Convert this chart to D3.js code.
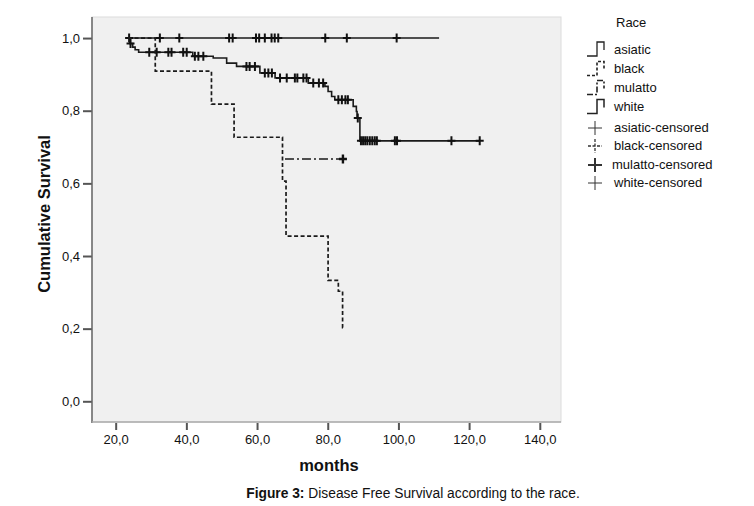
<!DOCTYPE html>
<html>
<head>
<meta charset="utf-8">
<script src="https://cdn.jsdelivr.net/npm/d3@7"></script>
<style>
  body { margin: 0; background: #fff; }
  text { font-family: "Liberation Sans", Arial, sans-serif; fill: #111; }
</style>
</head>
<body>
<div id="chart"></div>
<script>
/* DATA */
// step curves: [time in months, survival after the drop]
const asiaticSteps = [[23.1, 1.0]];
const asiaticEnd = 111.5;
const asiaticCensored = [23.8, 32.5, 38.0, 52.1, 53.1, 59.7, 60.6, 62.2, 64.1, 65.0, 66.0, 79.3, 85.4, 99.5];

const blackSteps = [[23.5, 1.0], [31.2, 0.909], [47.1, 0.818], [53.5, 0.727], [67.2, 0.606],
  [68.2, 0.455], [80.1, 0.333], [83.0, 0.303], [84.2, 0.203]];
const blackEnd = 84.4;
const blackCensored = [];

const mulattoSteps = [[67.9, 0.667]];
const mulattoEnd = 84.8;
const mulattoCensored = [84.3];

const whiteSteps = [[23.5, 1.0], [24.0, 0.985], [24.8, 0.975], [25.5, 0.968], [26.5, 0.961],
  [41.8, 0.950], [47.6, 0.945], [51.4, 0.931], [54.2, 0.922], [60.8, 0.904], [65.1, 0.890],
  [74.5, 0.876], [79.2, 0.867], [80.1, 0.853], [81.1, 0.839], [82.0, 0.830], [87.2, 0.812],
  [88.1, 0.798], [88.3, 0.780], [89.1, 0.717]];
const whiteEnd = 123.0;
const whiteCensored = [24.2, 29.5, 31.6, 34.9, 35.8, 39.1, 40.1, 42.4, 43.4, 44.8, 57.0, 57.9,
  59.4, 62.2, 63.2, 64.2, 66.5, 68.4, 70.7, 71.4, 73.1, 74.0, 75.9, 77.5, 78.7, 83.0, 84.0,
  85.0, 85.7, 88.5, 89.4, 90.0, 90.6, 91.2, 91.9, 92.6, 93.3, 93.9, 99.0, 99.6, 115.0, 123.0];

const xTicks = [20, 40, 60, 80, 100, 120, 140];
const yTicks = [0, 0.2, 0.4, 0.6, 0.8, 1.0];
const legendLines = ["asiatic", "black", "mulatto", "white"];
const legendCensored = ["asiatic-censored", "black-censored", "mulatto-censored", "white-censored"];

/* LAYOUT */
const W = 754, H = 506;
const plot = { left: 92, right: 561, top: 17, bottom: 422 };

const svg = d3.select("#chart").append("svg").attr("width", W).attr("height", H);

const x = d3.scaleLinear().domain([13.3, 146]).range([plot.left, plot.right]);
const y = d3.scaleLinear().domain([-0.057, 1.058]).range([plot.bottom, plot.top]);

const fmt = (d) => d.toFixed(1).replace(".", ",");

// plot background
svg.append("rect")
  .attr("x", plot.left).attr("y", plot.top)
  .attr("width", plot.right - plot.left).attr("height", plot.bottom - plot.top)
  .attr("fill", "#f0f0f0").attr("stroke", "#dcdcdc").attr("stroke-width", 1);

// axes
const xAxis = svg.append("g")
  .attr("transform", `translate(0,${plot.bottom})`)
  .call(d3.axisBottom(x).tickValues(xTicks).tickFormat(fmt).tickSize(6).tickPadding(6));
const yAxis = svg.append("g")
  .attr("transform", `translate(${plot.left},0)`)
  .call(d3.axisLeft(y).tickValues(yTicks).tickFormat(fmt).tickSize(9).tickPadding(3));

[xAxis, yAxis].forEach((g) => {
  g.select(".domain").remove();
  g.selectAll(".tick line").attr("stroke", "#555").attr("stroke-width", 2);
  g.selectAll(".tick text").style("font-size", "13px").attr("fill", "#111");
});
xAxis.selectAll(".tick line").attr("y1", 1).attr("y2", 8);
xAxis.selectAll(".tick text").attr("y", 13);

svg.append("line")
  .attr("x1", plot.left).attr("x2", plot.left).attr("y1", plot.top).attr("y2", plot.bottom + 1)
  .attr("stroke", "#666").attr("stroke-width", 1.5);
svg.append("line")
  .attr("x1", plot.left).attr("x2", plot.right).attr("y1", plot.bottom).attr("y2", plot.bottom)
  .attr("stroke", "#aaa").attr("stroke-width", 1.5);

// axis titles
svg.append("text")
  .attr("transform", `translate(50,214) rotate(-90)`)
  .attr("text-anchor", "middle")
  .style("font-size", "16.5px").style("font-weight", "bold")
  .text("Cumulative Survival");
svg.append("text")
  .attr("x", 329).attr("y", 471)
  .attr("text-anchor", "middle")
  .style("font-size", "16.5px").style("font-weight", "bold")
  .text("months");

// caption
const cap = svg.append("text").attr("x", 413).attr("y", 498)
  .attr("text-anchor", "middle").style("font-size", "13.8px");
cap.append("tspan").style("font-weight", "bold").text("Figure 3:");
cap.append("tspan").text(" Disease Free Survival according to the race.");

/* CURVES */
function stepPoints(steps, end) {
  const pts = [];
  steps.forEach(([t, s], i) => {
    if (i > 0) pts.push([t, steps[i - 1][1]]);
    pts.push([t, s]);
  });
  pts.push([end, steps[steps.length - 1][1]]);
  return pts;
}

function survAt(steps, t) {
  let s = steps[0][1];
  steps.forEach(([tt, ss]) => { if (tt <= t) s = ss; });
  return s;
}

const line = d3.line().x((d) => x(d[0])).y((d) => y(d[1]));

const curves = [
  { steps: asiaticSteps, end: asiaticEnd, cens: asiaticCensored, dash: null, w: 1.4, cw: 2 },
  { steps: whiteSteps, end: whiteEnd, cens: whiteCensored, dash: null, w: 1.6, cw: 2 },
  { steps: blackSteps, end: blackEnd, cens: blackCensored, dash: "4,2.5", w: 1.7, cw: 1.3 },
  { steps: mulattoSteps, end: mulattoEnd, cens: mulattoCensored, dash: "9,3,2,3", w: 1.7, cw: 2.4 }
];

curves.forEach((c) => {
  svg.append("path")
    .attr("d", line(stepPoints(c.steps, c.end)))
    .attr("fill", "none").attr("stroke", "#1a1a1a")
    .attr("stroke-width", c.w)
    .attr("stroke-dasharray", c.dash);

  const g = svg.append("g");
  c.cens.forEach((t) => {
    const cx = x(t), cy = y(survAt(c.steps, t));
    g.append("path")
      .attr("d", `M${cx - 4},${cy}H${cx + 4}M${cx},${cy - 4.5}V${cy + 4.5}`)
      .attr("stroke", "#111").attr("stroke-width", c.cw).attr("fill", "none");
  });
});

/* LEGEND */
const lg = svg.append("g");
lg.append("text").attr("x", 616).attr("y", 27).style("font-size", "13px").text("Race");

const lineStyles = [
  { dash: null, w: 1.3 }, { dash: "3,2", w: 1.6 }, { dash: "6,2,2,2", w: 1.6 }, { dash: null, w: 1.5 }
];
const rowY = [49, 68.5, 87.5, 106.5, 127, 145, 164, 182];

legendLines.forEach((name, i) => {
  const cy = rowY[i];
  lg.append("path")
    .attr("d", `M587,${cy + 7}H597V${cy - 7}H604V${cy + 1}`)
    .attr("fill", "none").attr("stroke", "#222")
    .attr("stroke-width", lineStyles[i].w)
    .attr("stroke-dasharray", lineStyles[i].dash);
  lg.append("text").attr("x", 614).attr("y", cy + 4.5).style("font-size", "13px").text(name);
});

const plusW = [1, 1.3, 2, 1];
legendCensored.forEach((name, i) => {
  const cy = rowY[i + 4];
  lg.append("path")
    .attr("d", `M588,${cy + 1}H602M595,${cy - 6}V${cy + 8}`)
    .attr("fill", "none").attr("stroke", "#333")
    .attr("stroke-width", plusW[i])
    .attr("stroke-dasharray", i === 1 ? "3,1.5" : null);
  lg.append("text").attr("x", i === 2 ? 612 : 614).attr("y", cy + 4.5).style("font-size", "13px").text(name);
});
</script>
</body>
</html>
